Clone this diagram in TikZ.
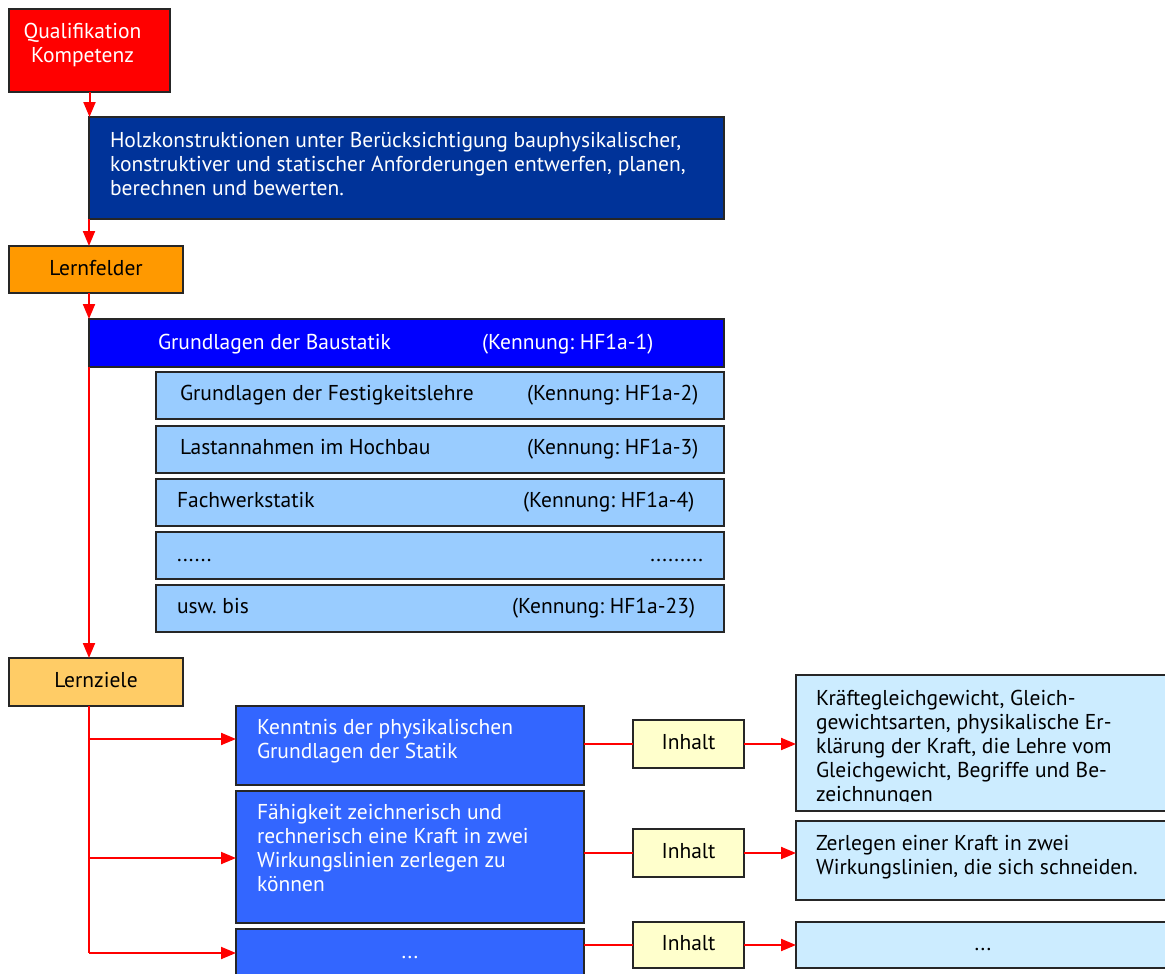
\documentclass[tikz,border=0pt]{standalone}
\usepackage{fontspec}
\setmainfont{PT Sans}
\frenchspacing
\usetikzlibrary{arrows.meta}
\definecolor{cRed}{HTML}{FF0000}
\definecolor{cDark}{HTML}{003399}
\definecolor{cOrange}{HTML}{FF9900}
\definecolor{cBlue}{HTML}{0000FF}
\definecolor{cLight}{HTML}{99CCFF}
\definecolor{cZiel}{HTML}{FFCC66}
\definecolor{cMid}{HTML}{3366FF}
\definecolor{cInh}{HTML}{FFFFCC}
\definecolor{cPale}{HTML}{CCECFF}
\begin{document}
\begin{tikzpicture}[x=1pt,y=-1pt,
  box/.style={draw=black!85, line width=1.6pt, rectangle, anchor=north west, inner sep=0pt, outer sep=0pt},
  txt/.style={font=\fontsize{21.5}{24}\selectfont, inner sep=0pt, outer sep=0pt, anchor=base west, align=left},
  ctxt/.style={txt, anchor=base, align=center},
  wtxt/.style={txt, text=white},
  conn/.style={draw=cRed, line width=2pt},
  arr/.style={conn, -{Triangle[length=15pt,width=12pt]}}]
\clip (0,0) rectangle (1165,974);
\fill[white] (0,0) rectangle (1165,974);

% top
\node[box, fill=cRed, minimum width=161pt, minimum height=83pt] (qual) at (9,9) {};
\node[ctxt, text=white] (qualt1) at (82.5,39) {Qualifikation};
\node[ctxt, text=white] (qualt2) at (82.5,63) {Kompetenz};

\node[box, fill=cDark, minimum width=635pt, minimum height=102pt] (holz) at (89,117) {};
\node[wtxt] (holzt) at (110,195) {Holzkonstruktionen unter Berücksichtigung bauphysikalischer,\\konstruktiver und statischer Anforderungen entwerfen, planen,\\berechnen und bewerten.};

\node[box, fill=cOrange, minimum width=174pt, minimum height=47pt] (lernf) at (9,246) {};
\node[ctxt] (lernft) at (96,275) {Lernfelder};

\node[box, fill=cBlue, minimum width=635pt, minimum height=48pt] (baust) at (89,319) {};
\node[wtxt] (baustt) at (158,349) {Grundlagen der Baustatik};
\node[wtxt] (baustk) at (482,349) {(Kennung: HF1a-1)};

\node[box, fill=cLight, minimum width=568pt, minimum height=47pt] (f1) at (156,372) {};
\node[box, fill=cLight, minimum width=568pt, minimum height=47pt] (f2) at (156,426) {};
\node[box, fill=cLight, minimum width=568pt, minimum height=47pt] (f3) at (156,479) {};
\node[box, fill=cLight, minimum width=568pt, minimum height=47pt] (f4) at (156,532) {};
\node[box, fill=cLight, minimum width=568pt, minimum height=47pt] (f5) at (156,585) {};
\node[txt] (f1t) at (180,400) {Grundlagen der Festigkeitslehre};
\node[txt] (f1k) at (527,400) {(Kennung: HF1a-2)};
\node[txt] (f2t) at (180,454) {Lastannahmen im Hochbau};
\node[txt] (f2k) at (527,454) {(Kennung: HF1a-3)};
\node[txt] (f3t) at (177,507) {Fachwerkstatik};
\node[txt] (f3k) at (523,507) {(Kennung: HF1a-4)};
\node[txt] (f4t) at (177,561) {......};
\node[txt, anchor=base east] (f4k) at (703,561) {.........};
\node[txt] (f5t) at (177,613) {usw. bis};
\node[txt] (f5k) at (512,613) {(Kennung: HF1a-23)};

\node[box, fill=cZiel, minimum width=174pt, minimum height=48pt] (lernz) at (9,658) {};
\node[ctxt] (lernzt) at (96,687) {Lernziele};

% goals
\node[box, fill=cMid, minimum width=348pt, minimum height=79pt] (k1) at (236,706) {};
\node[wtxt] (k1t) at (257,758) {Kenntnis der physikalischen\\Grundlagen der Statik};
\node[box, fill=cMid, minimum width=348pt, minimum height=132pt] (k2) at (236,791) {};
\node[wtxt] (k2t) at (257,891) {Fähigkeit zeichnerisch und\\rechnerisch eine Kraft in zwei\\Wirkungslinien zerlegen zu\\können};
\node[box, fill=cMid, minimum width=348pt, minimum height=60pt] (k3) at (236,929) {};
\node[ctxt, text=white] (k3t) at (410,958) {...};

\node[box, fill=cInh, minimum width=111pt, minimum height=48pt] (i1) at (633,720) {};
\node[ctxt] (i1t) at (688.5,749) {Inhalt};
\node[box, fill=cInh, minimum width=111pt, minimum height=48pt] (i2) at (633,829) {};
\node[ctxt] (i2t) at (688.5,858) {Inhalt};
\node[box, fill=cInh, minimum width=111pt, minimum height=46pt] (i3) at (633,922) {};
\node[ctxt] (i3t) at (688.5,950) {Inhalt};

\node[box, fill=cPale, minimum width=380pt, minimum height=136pt] (r1) at (796,675) {};
\begin{scope}
\clip (796,675) rectangle (1165,801);
\node[txt] (r1t) at (816,801) {Kräftegleichgewicht, Gleich-\\gewichtsarten, physikalische Er-\\klärung der Kraft, die Lehre vom\\Gleichgewicht, Begriffe und Be-\\zeichnungen};
\end{scope}
\node[box, fill=cPale, minimum width=380pt, minimum height=79pt] (r2) at (796,821) {};
\node[txt] (r2t) at (816,874) {Zerlegen einer Kraft in zwei\\Wirkungslinien, die sich schneiden.};
\node[box, fill=cPale, minimum width=380pt, minimum height=46pt] (r3) at (796,922) {};
\node[ctxt] (r3t) at (983,950) {...};

% connectors
\draw[arr] (qual.south) -- (qual.south |- holz.north);
\draw[arr] (holz.south west) -- (holz.south west |- lernf.north);
\draw[arr] (baust.west |- lernf.south) -- (baust.north west);
\draw[arr] (baust.south west) -- (baust.south west |- lernz.north);

\coordinate (t1) at (89,739);
\coordinate (t2) at (89,858);
\coordinate (t3) at (89,953);
\draw[conn] (t1 |- lernz.south) -- (t3);
\draw[arr] (t1) -- (t1 -| k1.west);
\draw[arr] (t2) -- (t2 -| k2.west);
\draw[arr] (t3) -- (t3 -| k3.west);

\draw[conn] (i1.west -| k1.east) -- (i1.west);
\draw[conn] (i2.west -| k2.east) -- (i2.west);
\draw[conn] (i3.west -| k3.east) -- (i3.west);
\draw[arr] (i1.east) -- (i1.east -| r1.west);
\draw[arr] (i2.east) -- (i2.east -| r2.west);
\draw[arr] (i3.east) -- (i3.east -| r3.west);
\end{tikzpicture}
\end{document}
